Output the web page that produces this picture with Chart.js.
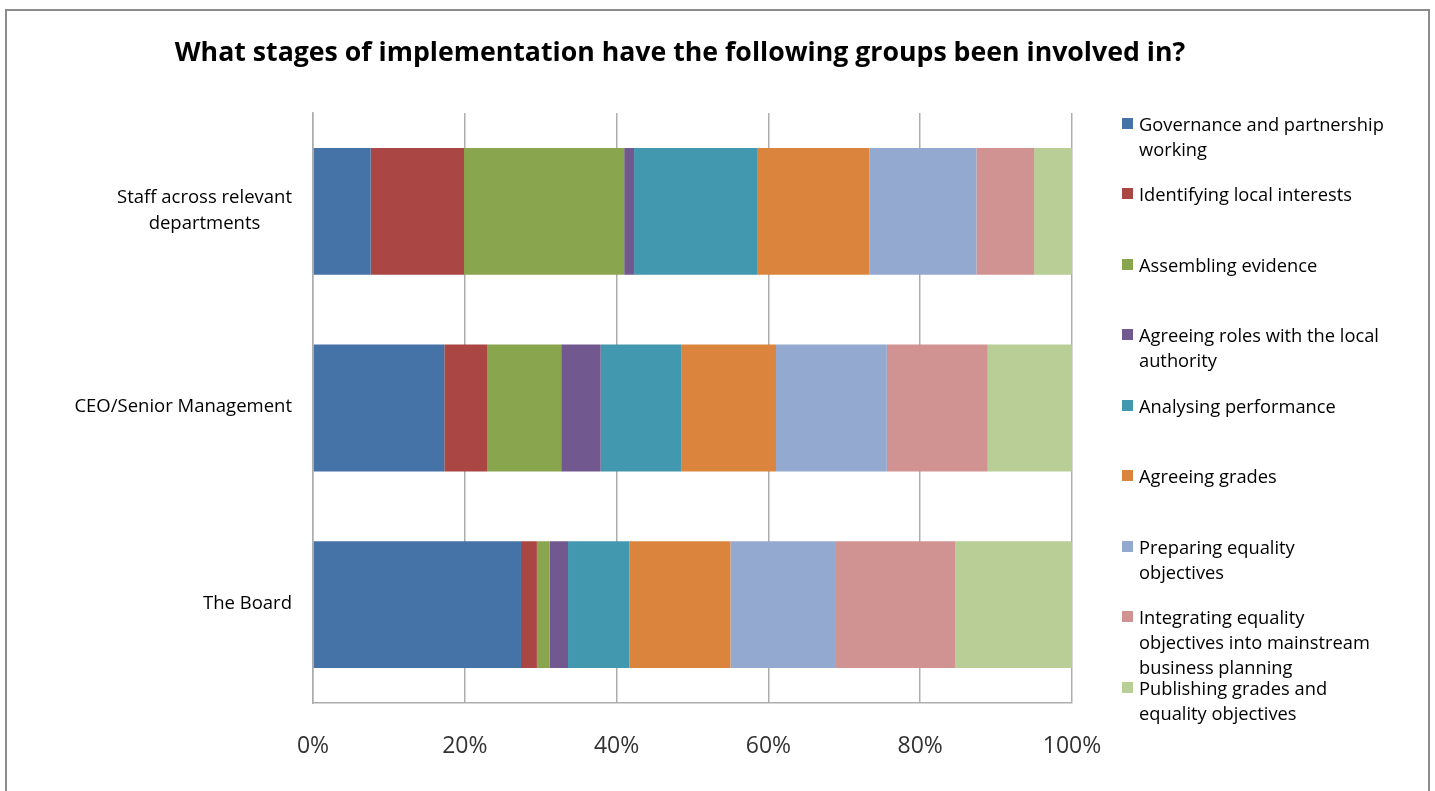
<!DOCTYPE html>
<html>
<head>
<meta charset="utf-8">
<title>Stages of implementation</title>
<script src="https://cdn.jsdelivr.net/npm/chart.js@4.4.1/dist/chart.umd.min.js"></script>
<style>
    html, body { margin: 0; padding: 0; background: #fff; overflow: hidden; }
    #frame { position: absolute; left: 5px; top: 9px; width: 1421px; height: 800px; border: 2px solid #8c8c8c; }
    #chart { position: absolute; left: 0; top: 0; }
    #legend { position: absolute; left: 1122px; top: 0; font-family: 'Open Sans', sans-serif; font-size: 18.3px; color: #000; }
    #legend .item { position: absolute; left: 0; white-space: nowrap; }
    #legend .sw { position: absolute; left: 0; top: 7px; width: 11px; height: 11px; }
    #legend .txt { position: absolute; left: 17px; top: 0; line-height: 25px; }
</style>
</head>
<body>
<div id="frame"></div>
<canvas id="chart" width="1435" height="791"></canvas>
<div id="legend"></div>
<script>
    // categories, top to bottom
    const categories = [['Staff across relevant', 'departments'], 'CEO/Senior Management', 'The Board'];

    const stages = [
        'Governance and partnership working',
        'Identifying local interests',
        'Assembling evidence',
        'Agreeing roles with the local authority',
        'Analysing performance',
        'Agreeing grades',
        'Preparing equality objectives',
        'Integrating equality objectives into mainstream business planning',
        'Publishing grades and equality objectives'
    ];
    // legend wraps the way the original did
    const legendLines = [
        ['Governance and partnership', 'working'],
        ['Identifying local interests'],
        ['Assembling evidence'],
        ['Agreeing roles with the local', 'authority'],
        ['Analysing performance'],
        ['Agreeing grades'],
        ['Preparing equality', 'objectives'],
        ['Integrating equality', 'objectives into mainstream', 'business planning'],
        ['Publishing grades and', 'equality objectives']
    ];
    const colors = ['#4572A7', '#AA4643', '#89A54E', '#71588F', '#4198AF', '#DB843D', '#93A9CF', '#D19392', '#B9CD96'];

    // share of each group (%), order: Staff, CEO, Board
    const governance     = [7.6, 17.3, 27.4];
    const identifying    = [12.3, 5.7, 2.1];
    const assembling     = [21.1, 9.7, 1.7];
    const agreeingRoles  = [1.3, 5.2, 2.4];
    const analysing      = [16.3, 10.6, 8.1];
    const agreeingGrades = [14.7, 12.5, 13.3];
    const preparing      = [14.1, 14.6, 13.9];
    const integrating    = [7.6, 13.3, 15.7];
    const publishing     = [5.0, 11.1, 15.4];
    const seriesValues = [governance, identifying, assembling, agreeingRoles, analysing, agreeingGrades, preparing, integrating, publishing];

    const xTicks = [0, 20, 40, 60, 80, 100];

    const gridGray = '#adadad';

    // the title box is only as wide as the plot, widen it so the text is not squeezed
    const wideTitle = {
        id: 'wideTitle',
        afterLayout(chart) {
            const t = chart.titleBlock;
            if (!t) return;
            const mid = (t.left + t.right) / 2;
            t.left = mid - 700;
            t.right = mid + 700;
            t.width = 1400;
        }
    };

    // y labels: lines centred within a right-aligned block, like Excel
    const categoryLabels = {
        id: 'categoryLabels',
        afterDraw(chart) {
            const ctx = chart.ctx;
            const yScale = chart.scales.y;
            const right = chart.chartArea.left - 21;
            ctx.save();
            ctx.font = '18.5px "Open Sans"';
            ctx.fillStyle = '#000';
            ctx.textAlign = 'center';
            ctx.textBaseline = 'middle';
            categories.forEach(function (lab, i) {
                const lines = Array.isArray(lab) ? lab : [lab];
                const w = Math.max.apply(null, lines.map(l => ctx.measureText(l).width));
                const cx = right - w / 2;
                const cy = yScale.getPixelForValue(i) - 1;
                lines.forEach(function (l, j) {
                    ctx.fillText(l, cx, cy + (j - (lines.length - 1) / 2) * 26);
                });
            });
            ctx.restore();
        }
    };

    const ctx = document.getElementById('chart').getContext('2d');
    const chart = new Chart(ctx, {
        type: 'bar',
        data: {
            labels: categories,
            datasets: stages.map(function (name, i) {
                return {
                    label: name,
                    data: seriesValues[i],
                    backgroundColor: colors[i],
                    borderWidth: 0,
                    barPercentage: 0.645,
                    categoryPercentage: 1
                };
            })
        },
        options: {
            responsive: false,
            animation: false,
            indexAxis: 'y',
            layout: { padding: { left: 288, right: 363, top: 0, bottom: 30 } },
            scales: {
                x: {
                    stacked: true,
                    min: 0,
                    max: 100,
                    afterBuildTicks: function (scale) { scale.ticks = xTicks.map(v => ({ value: v })); },
                    afterFit: function (scale) { scale.height = 58; },
                    grid: { color: gridGray, lineWidth: 1.5, drawTicks: false },
                    border: { display: true, color: gridGray, width: 1.5 },
                    ticks: {
                        padding: 30,
                        color: '#333',
                        font: { family: 'Open Sans', size: 23 },
                        callback: function (v) { return v + '%'; }
                    }
                },
                y: {
                    stacked: true,
                    afterFit: function (scale) { scale.width = 25; },
                    grid: { display: false },
                    border: { display: true, color: gridGray, width: 1.5 },
                    ticks: { display: false }
                }
            },
            plugins: {
                legend: { display: false },
                tooltip: { enabled: false },
                title: {
                    display: true,
                    text: 'What stages of implementation have the following groups been involved in?',
                    color: '#000',
                    font: { family: 'Open Sans', size: 26.7, weight: 'bold' },
                    padding: { top: 37, bottom: 44 }
                }
            }
        },
        plugins: [wideTitle, categoryLabels]
    });

    // html legend in fixed slots on the right
    const legendEl = document.getElementById('legend');
    legendLines.forEach(function (lines, i) {
        const item = document.createElement('div');
        item.className = 'item';
        item.style.top = (110.5 + i * 70.5) + 'px';
        const sw = document.createElement('div');
        sw.className = 'sw';
        sw.style.background = colors[i];
        const txt = document.createElement('div');
        txt.className = 'txt';
        txt.innerHTML = lines.join('<br>');
        item.appendChild(sw);
        item.appendChild(txt);
        legendEl.appendChild(item);
    });
</script>
</body>
</html>
